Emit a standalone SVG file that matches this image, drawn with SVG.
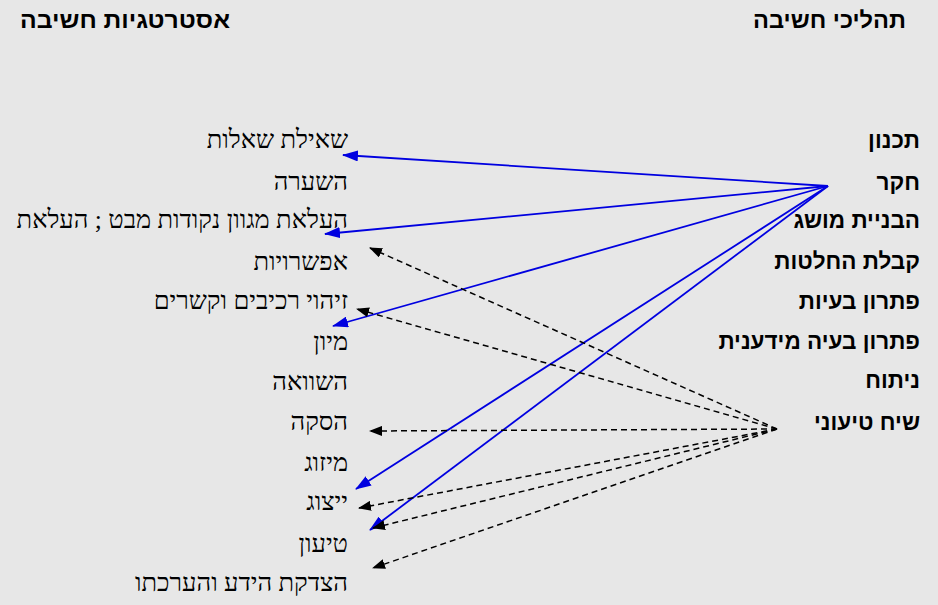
<svg xmlns="http://www.w3.org/2000/svg" width="938" height="605" viewBox="0 0 938 605">
<defs>
<style>
.bg{fill:#e7e7e7}
.hd{font-family:"Liberation Sans",Arial,sans-serif;font-weight:bold;font-size:23px;fill:#000;text-anchor:end}
.pr{font-family:"Liberation Sans",Arial,sans-serif;font-weight:bold;font-size:22.5px;fill:#000;text-anchor:end}
.st{font-family:"Liberation Serif",serif;font-size:25.5px;fill:#000;text-anchor:end}
.blue{stroke:#0000e0;stroke-width:1.8;fill:none;marker-end:url(#ab)}
.dash{stroke:#000;stroke-width:1.5;fill:none;stroke-dasharray:6 4;marker-end:url(#ak)}
</style>
<marker id="ab" viewBox="0 0 16 11" refX="15" refY="5.5" markerWidth="16" markerHeight="11" markerUnits="userSpaceOnUse" orient="auto">
<path d="M0,0 L16,5.5 L0,11 z" fill="#0000e0"/>
</marker>
<marker id="ak" viewBox="0 0 13 10" refX="12" refY="5" markerWidth="13" markerHeight="10" markerUnits="userSpaceOnUse" orient="auto">
<path d="M0,0 L13,5 L0,10 z" fill="#000"/>
</marker>
</defs>
<rect class="bg" x="0" y="0" width="938" height="605"/>
<g id="headers">
<text class="hd" x="906" y="28" textLength="153" lengthAdjust="spacingAndGlyphs">תהליכי חשיבה</text>
<text class="hd" x="230" y="28" textLength="210" lengthAdjust="spacingAndGlyphs">אסטרטגיות חשיבה</text>
</g>
<g id="processes">
<g id="p1"><text class="pr" x="920" y="148">תכנון</text></g>
<g id="p2"><text class="pr" x="920" y="190">חקר</text></g>
<g id="p3"><text class="pr" x="920" y="228">הבניית מושג</text></g>
<g id="p4"><text class="pr" x="920" y="269">קבלת החלטות</text></g>
<g id="p5"><text class="pr" x="920" y="309">פתרון בעיות</text></g>
<g id="p6"><text class="pr" x="920" y="349">פתרון בעיה מידענית</text></g>
<g id="p7"><text class="pr" x="920" y="388">ניתוח</text></g>
<g id="p8"><text class="pr" x="920" y="430">שיח טיעוני</text></g>
</g>
<g id="strategies">
<g id="s1"><text class="st" x="348" y="148">שאילת שאלות</text></g>
<g id="s2"><text class="st" x="348" y="190">השערה</text></g>
<g id="s3"><text class="st" x="348" y="228">העלאת מגוון נקודות מבט ; העלאת</text></g>
<g id="s4"><text class="st" x="348" y="270">אפשרויות</text></g>
<g id="s5"><text class="st" x="348" y="309">זיהוי רכיבים וקשרים</text></g>
<g id="s6"><text class="st" x="348" y="350">מיון</text></g>
<g id="s7"><text class="st" x="348" y="390">השוואה</text></g>
<g id="s8"><text class="st" x="348" y="430">הסקה</text></g>
<g id="s9"><text class="st" x="348" y="471">מיזוג</text></g>
<g id="s10"><text class="st" x="348" y="510">ייצוג</text></g>
<g id="s11"><text class="st" x="348" y="552">טיעון</text></g>
<g id="s12"><text class="st" x="348" y="591">הצדקת הידע והערכתו</text></g>
</g>
<g id="connectors">
<line class="blue" x1="828" y1="186" x2="343" y2="155"/>
<line class="blue" x1="828" y1="186" x2="325" y2="234"/>
<line class="blue" x1="828" y1="186" x2="333" y2="326"/>
<line class="blue" x1="828" y1="186" x2="356" y2="489"/>
<line class="blue" x1="828" y1="186" x2="370" y2="530"/>
<line class="dash" x1="777" y1="429" x2="370" y2="248"/>
<line class="dash" x1="777" y1="429" x2="357" y2="309"/>
<line class="dash" x1="777" y1="429" x2="370" y2="431"/>
<line class="dash" x1="777" y1="429" x2="359" y2="508"/>
<line class="dash" x1="777" y1="429" x2="373" y2="528"/>
<line class="dash" x1="777" y1="429" x2="373" y2="568"/>
</g>
</svg>
